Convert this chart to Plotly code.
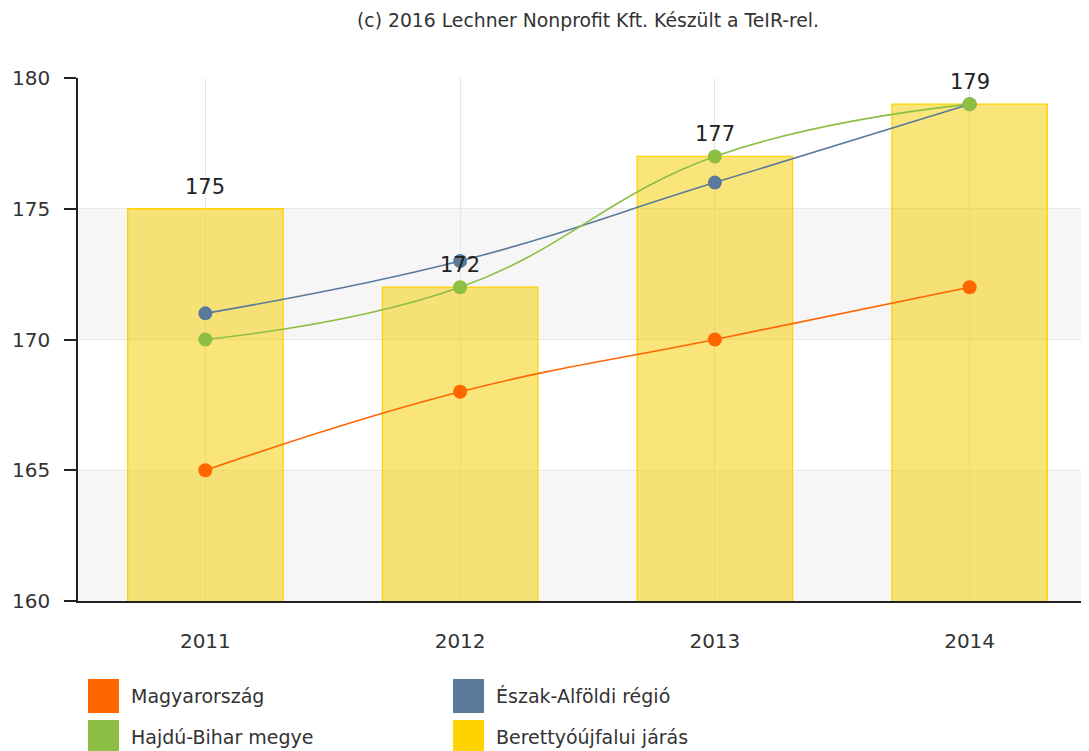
import plotly.graph_objects as go

years = ["2011", "2012", "2013", "2014"]
magyarorszag = [165, 168, 170, 172]
eszak_alfoldi = [171, 173, 176, 179]
hajdu_bihar = [170, 172, 177, 179]
berettyo = [175, 172, 177, 179]

names = ["Magyarország", "Észak-Alföldi régió", "Hajdú-Bihar megye", "Berettyóújfalui járás"]
colors = ["#FF6600", "#5B7A9B", "#8CBF44", "#FFD300"]

FONT = "DejaVu Sans"
OFF = 8  # default body margin of the page

fig = go.Figure()

fig.add_trace(go.Bar(
    x=years, y=berettyo, name=names[3], width=0.61,
    marker=dict(color="rgba(245,206,0,0.52)", line=dict(color="#FFD200", width=1.3)),
    showlegend=False,
))

for vals, nm, col in [(magyarorszag, names[0], colors[0]),
                      (eszak_alfoldi, names[1], colors[1]),
                      (hajdu_bihar, names[2], colors[2])]:
    fig.add_trace(go.Scatter(
        x=years, y=vals, name=nm, mode="lines+markers",
        line=dict(color=col, width=1.6, shape="spline", smoothing=1.2),
        marker=dict(color=col, size=14),
        cliponaxis=False, showlegend=False,
    ))

shapes = []
for y0, y1 in [(170, 175), (160, 165)]:
    shapes.append(dict(type="rect", xref="paper", yref="y", x0=0, x1=1, y0=y0, y1=y1,
                       fillcolor="#F6F6F6", line=dict(width=0), layer="below"))

annotations = []
# bar value labels (category index positions on the category axis)
for i, v in enumerate(berettyo):
    annotations.append(dict(x=i, y=v, xref="x", yref="y", text=str(v), showarrow=False,
                            yanchor="middle", yshift=22,
                            font=dict(family=FONT, size=21, color="#222")))

fig_w, fig_h = 1089 - OFF, 751 - OFF
ml, mr, mt, mb = 78 - OFF, 0, 78 - OFF, 150
pw = fig_w - ml - mr
ph = fig_h - mt - mb

def px_to_paper(px, py):
    px -= OFF
    py -= OFF
    return (px - ml) / pw, (fig_h - mb - py) / ph

for i, ci in enumerate([0, 1, 2, 3]):
    col_x = 88 if i % 2 == 0 else 453
    row_y = 696 if i < 2 else 737
    x0, y0 = px_to_paper(col_x, row_y + 17)
    x1, y1 = px_to_paper(col_x + 31, row_y - 17)
    shapes.append(dict(type="rect", xref="paper", yref="paper", x0=x0, x1=x1, y0=y0, y1=y1,
                       fillcolor=colors[ci], line=dict(width=0)))
    tx, ty = px_to_paper(col_x + 41, row_y)
    annotations.append(dict(xref="paper", yref="paper", x=tx, y=ty, text=names[ci],
                            showarrow=False, xanchor="left", yanchor="middle",
                            font=dict(family=FONT, size=19, color="#333")))

tx, ty = px_to_paper(588, 20)
annotations.append(dict(xref="paper", yref="paper", x=tx, y=ty,
                        text="(c) 2016 Lechner Nonprofit Kft. Készült a TeIR-rel.",
                        showarrow=False, xanchor="center", yanchor="middle",
                        font=dict(family=FONT, size=18.8, color="#333")))

fig.update_layout(
    width=fig_w, height=fig_h,
    margin=dict(l=ml, r=mr, t=mt, b=mb),
    paper_bgcolor="white", plot_bgcolor="white",
    showlegend=False,
    shapes=shapes, annotations=annotations,
    font=dict(family=FONT),
)
fig.update_xaxes(
    type="category", range=[-0.5, 3.5 - 8 / 255],
    showgrid=True, gridcolor="#E6E6E6", gridwidth=1,
    showline=True, linecolor="#222", linewidth=1.5,
    ticks="", ticklabelstandoff=21,
    tickfont=dict(family=FONT, size=20, color="#333"),
    zeroline=False,
)
fig.update_yaxes(
    range=[160, 180], dtick=5, tick0=160,
    showgrid=True, gridcolor="#E6E6E6", gridwidth=1,
    showline=True, linecolor="#222", linewidth=1.5,
    ticks="outside", ticklen=12, tickcolor="#222", tickwidth=1.5,
    ticklabelstandoff=10,
    tickfont=dict(family=FONT, size=20, color="#333"),
    zeroline=False,
)

fig.write_html("out.html")
